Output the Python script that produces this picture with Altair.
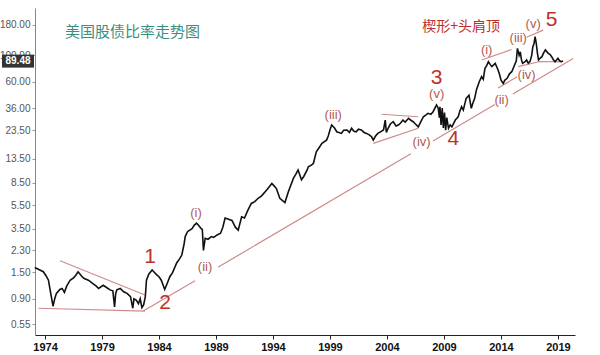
import altair as alt
import pandas as pd

# ---- price ratio series (year, value) ----
years = [1973.1, 1973.5, 1973.85, 1974.1, 1974.3, 1974.5, 1974.7, 1974.85, 1975.0, 1975.3,
         1975.5, 1975.7, 1975.9, 1976.2, 1976.5, 1976.7, 1976.9, 1977.2, 1977.4, 1977.8,
         1978.0, 1978.2, 1978.5, 1978.7, 1979.1, 1979.4, 1979.7, 1979.95, 1980.1, 1980.2,
         1980.3, 1980.6, 1980.9, 1981.2, 1981.5, 1981.7, 1981.8, 1982.0, 1982.2, 1982.35,
         1982.5, 1982.65, 1982.8, 1982.9, 1983.1, 1983.4, 1983.6, 1983.8, 1984.0, 1984.2,
         1984.5, 1984.7, 1984.95, 1985.2, 1985.55, 1985.8, 1986.0, 1986.2, 1986.3, 1986.5,
         1986.7, 1986.9, 1987.1, 1987.3, 1987.5, 1987.7, 1987.8, 1987.9, 1988.05, 1988.3,
         1988.6, 1988.8, 1989.1, 1989.4, 1989.6, 1989.8, 1990.1, 1990.4, 1990.7, 1990.95,
         1991.25, 1991.5, 1991.8, 1992.1, 1992.4, 1992.7, 1993.0, 1993.45, 1993.9, 1994.1,
         1994.3, 1994.6, 1995.05, 1995.35, 1995.8, 1996.0, 1996.2, 1996.5, 1996.7, 1997.0,
         1997.1, 1997.4, 1997.55, 1997.8, 1998.0, 1998.3, 1998.7, 1998.85, 1999.0, 1999.15,
         1999.4, 1999.6, 2000.0, 2000.2, 2000.5, 2000.7, 2000.9, 2001.1, 2001.3, 2001.5,
         2001.75, 2002.0, 2002.2, 2002.45, 2002.65, 2002.8, 2003.0, 2003.2, 2003.5, 2003.7,
         2003.85, 2003.95, 2004.1, 2004.3, 2004.55, 2004.8, 2005.0, 2005.2, 2005.4, 2005.6,
         2005.9, 2006.1, 2006.3, 2006.5, 2006.75, 2007.0, 2007.2, 2007.4, 2007.6, 2007.85,
         2008.05, 2008.35, 2008.5, 2008.6, 2008.65, 2008.75, 2008.85, 2008.95, 2009.05, 2009.15,
         2009.25, 2009.4, 2009.55, 2009.7, 2010.0, 2010.25, 2010.4, 2010.55, 2010.7, 2010.95,
         2011.2, 2011.4, 2011.55, 2011.7, 2011.85, 2012.1, 2012.3, 2012.45, 2012.6, 2012.75,
         2012.9, 2013.05, 2013.2, 2013.5, 2013.75, 2013.9, 2014.0, 2014.2, 2014.35, 2014.55,
         2014.75, 2014.95, 2015.2, 2015.35, 2015.45, 2015.6, 2015.7, 2015.8, 2015.9, 2016.1,
         2016.25, 2016.4, 2016.55, 2016.7, 2016.8, 2016.9, 2017.0, 2017.1, 2017.2, 2017.3,
         2017.45, 2017.6, 2017.75, 2017.9, 2018.15, 2018.3, 2018.45, 2018.6, 2018.75, 2018.9,
         2019.0, 2019.15, 2019.3, 2019.45]
ratio = [1.65, 1.58, 1.52, 1.40, 1.29, 1.00, 0.78, 0.90, 1.00, 1.08,
         1.10, 1.02, 1.15, 1.29, 1.35, 1.42, 1.52, 1.40, 1.34, 1.29,
         1.25, 1.21, 1.15, 1.10, 1.17, 1.12, 1.07, 1.05, 0.77, 1.00,
         1.07, 1.10, 1.03, 1.00, 0.94, 0.75, 0.90, 0.88, 0.82, 0.90,
         0.76, 0.80, 0.94, 1.29, 1.45, 1.57, 1.50, 1.43, 1.38, 1.29,
         1.08, 1.20, 1.38, 1.50, 1.80, 1.95, 2.10, 2.60, 3.00, 3.30,
         3.40, 3.50, 3.75, 3.90, 3.70, 3.50, 3.45, 2.30, 2.90, 2.85,
         3.00, 2.95, 3.10, 3.20, 3.60, 4.30, 4.20, 4.10, 3.60, 3.40,
         4.40, 4.30, 5.00, 5.70, 5.90, 6.30, 6.60, 7.40, 8.40, 8.00,
         7.60, 6.30, 5.80, 7.15, 9.30, 10.0, 10.9, 9.00, 9.60, 10.9,
         11.6, 12.0, 12.4, 15.5, 16.5, 18.2, 19.4, 21.0, 23.6, 26.0,
         24.5, 22.8, 22.1, 23.5, 23.6, 22.5, 24.4, 23.0, 22.8, 24.0,
         23.6, 22.5, 22.1, 21.5, 20.7, 19.4, 21.0, 22.1, 23.0, 23.6,
         28.6, 22.5, 24.4, 26.5, 27.7, 25.5, 26.0, 27.0, 28.6, 27.5,
         29.6, 28.5, 27.7, 26.5, 25.1, 28.0, 30.5, 31.5, 32.6, 32.0,
         33.6, 38.3, 36.0, 30.0, 37.0, 26.0, 36.0, 24.5, 33.0, 23.5,
         30.0, 24.4, 26.0, 25.1, 28.6, 30.5, 34.0, 37.0, 34.7, 43.5,
         46.3, 35.9, 40.0, 43.5, 51.2, 60.1, 66.2, 63.0, 77.8, 82.0,
         88.5, 84.0, 80.4, 85.7, 75.3, 68.0, 62.1, 58.2, 62.0, 64.1,
         70.0, 72.9, 83.0, 90.0, 114.6, 100.0, 107.0, 92.0, 85.7, 88.0,
         91.4, 86.0, 88.5, 100.0, 118.0, 125.0, 143.5, 126.0, 105.0, 91.4,
         95.0, 97.5, 105.0, 111.0, 104.0, 102.0, 97.5, 92.0, 88.5, 92.0,
         94.4, 90.0, 88.5, 89.48]

last_value = [89.48]

# ---- annotation (trend) lines: segment id, year, value ----
seg_id = ["a", "a", "b", "b",
          "m1", "m1", "m2", "m2", "m3", "m3", "m4", "m4",
          "t1", "t1", "t2", "t2",
          "u1", "u1", "u2", "u2", "c1", "c1", "n", "n", "n"]
seg_year = [1973.41, 1982.77, 1975.32, 1982.77,
            1982.62, 1987.16, 1989.18, 2006.10, 2008.04, 2013.47, 2015.05, 2020.34,
            2003.53, 2006.75, 2002.80, 2006.75,
            2012.31, 2014.94, 2016.25, 2017.71, 2013.76, 2015.43, 2015.52, 2017.42, 2019.35]
seg_value = [0.75, 0.71, 1.88, 0.97,
             0.71, 1.277, 1.66, 14.9, 19.1, 38.6, 47.4, 94.0,
             32.0, 30.5, 18.2, 24.4,
             91.4, 112.0, 142.0, 163.0, 53.2, 66.2, 80.5, 88.8, 88.0]

# ---- wave labels ----
small_text = ["(i)", "(ii)", "(iii)", "(iv)", "(v)", "(i)", "(ii)", "(iii)", "(iv)", "(v)"]
small_year = [1987.25, 1988.04, 1999.29, 2007.04, 2008.36, 2012.75, 2014.06, 2015.52, 2016.25, 2016.83]
small_value = [4.76, 1.67, 31.5, 18.8, 47.3, 111.0, 42.2, 139.0, 68.4, 183.0]

big_text = ["1", "2", "3", "4", "5"]
big_year = [1983.21, 1984.53, 2008.36, 2009.82, 2018.45]
big_value = [2.03, 0.83, 64.1, 19.7, 198.0]

title_text = ["美国股债比率走势图"]
title_year = [1975.75]
title_value = [158.0]

pattern_text = ["楔形+头肩顶"]
pattern_year = [2010.5]
pattern_value = [173.0]

y_ticks = [0.55, 0.9, 1.5, 2.3, 3.5, 5.5, 8.5, 13.5, 23.5, 36, 60, 100, 180]
x_ticks = [1974, 1979, 1984, 1989, 1994, 1999, 2004, 2009, 2014, 2019]

price = pd.DataFrame({"year": years, "value": ratio})
segs = pd.DataFrame({"seg": seg_id, "year": seg_year, "value": seg_value})
small = pd.DataFrame({"t": small_text, "year": small_year, "value": small_value})
big = pd.DataFrame({"t": big_text, "year": big_year, "value": big_value})
ttl = pd.DataFrame({"t": title_text, "year": title_year, "value": title_value})
pat = pd.DataFrame({"t": pattern_text, "year": pattern_year, "value": pattern_value})
lastdf = pd.DataFrame({"value": last_value, "t": [f"{v:.2f}" for v in last_value]})

xs = alt.Scale(domain=[1973.12, 2020.5], nice=False, zero=False)
ys = alt.Scale(type="log", domain=[0.447, 250], nice=False)

x_enc = alt.X("year:Q", scale=xs, axis=alt.Axis(
    values=x_ticks, format="d", title=None, grid=False, labelFontWeight="bold",
    labelFontSize=11, labelColor="#111", labelFont="Liberation Sans", tickSize=4,
    domainColor="#222", tickColor="#222", labelPadding=2, labelFlush=False))
y_enc = alt.Y("value:Q", scale=ys, axis=alt.Axis(
    values=y_ticks, format=".2f", title=None, grid=False, labelFontSize=10,
    labelColor="#555", labelFont="Liberation Sans", tickSize=3, domainColor="#888",
    tickColor="#999", labelPadding=2))

line = alt.Chart(price).mark_line(color="#111", strokeWidth=1.6).encode(x=x_enc, y=y_enc)

trend = alt.Chart(segs).mark_line(color="#d08a8a", strokeWidth=1.2).encode(
    x="year:Q", y="value:Q", detail="seg:N")

small_lbl = alt.Chart(small).mark_text(color="#b35a50", fontSize=13,
                                       font="Liberation Sans").encode(
    x="year:Q", y="value:Q", text="t:N")
big_lbl = alt.Chart(big).mark_text(color="#c0302a", fontSize=21,
                                   font="Liberation Sans").encode(
    x="year:Q", y="value:Q", text="t:N")
title_lbl = alt.Chart(ttl).mark_text(color="#3a8f80", fontSize=15, align="left",
                                     font="Noto Sans CJK SC").encode(
    x="year:Q", y="value:Q", text="t:N")
pat_lbl = alt.Chart(pat).mark_text(color="#c0302a", fontSize=14,
                                   font="Noto Sans CJK SC").encode(
    x="year:Q", y="value:Q", text="t:N")

box = alt.Chart(lastdf).mark_rect(color="#333", width=32, height=13, clip=False).encode(
    x=alt.value(-17), y="value:Q")
box_txt = alt.Chart(lastdf).mark_text(color="white", fontSize=10, fontWeight="bold",
                                      font="Liberation Sans", clip=False).encode(
    x=alt.value(-17), y="value:Q", text="t:N")

chart = alt.layer(trend, line, small_lbl, big_lbl, title_lbl, pat_lbl, box, box_txt).properties(
    width=540, height=327,
    autosize=alt.AutoSizeParams(type="none"),
    padding={"left": 35, "top": 8, "right": 25, "bottom": 20},
    background="white",
).configure_view(stroke=None)

chart.save("out.html", embed_options={"renderer": "svg", "actions": False})
